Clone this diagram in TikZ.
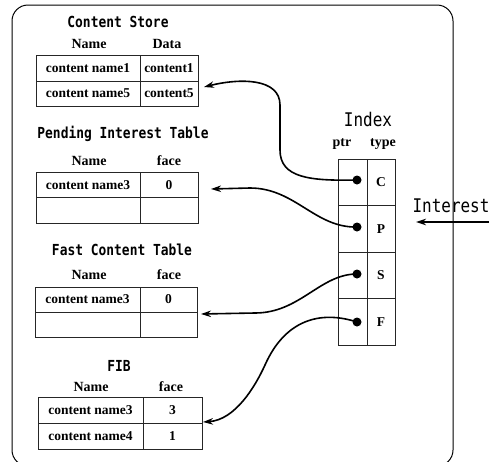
\documentclass[tikz,border=0pt]{standalone}
\usepackage{fontspec}
\usetikzlibrary{arrows.meta}
\setmainfont{Liberation Serif}
\newfontfamily\labelfont[FakeStretch=0.85]{DejaVu Sans Mono}

\tikzset{
  cell/.style={draw=black!85, line width=0.8pt, inner sep=0pt,
    font=\fontsize{13.5}{14}\selectfont\bfseries},
  hdr/.style={anchor=base, inner sep=0pt, font=\fontsize{14}{15}\selectfont\bfseries},
  ttl/.style={anchor=base, inner sep=0pt, font=\labelfont\bfseries\fontsize{15.2}{16}\selectfont},
  bigttl/.style={anchor=base, inner sep=0pt, font=\labelfont\fontsize{18.8}{20}\selectfont},
  link/.style={line width=1.6pt, -{Stealth[length=10pt,width=6.5pt]}},
  ptrdot/.style={circle, fill=black, inner sep=0pt, minimum size=9pt},
}

\begin{document}
\begin{tikzpicture}[x=1pt, y=-1pt]
\useasboundingbox (0,0) rectangle (490,461);

% outer frame (bottom edge runs below the page)
\begin{scope}
  \clip (0,0) rectangle (490,461);
  \draw[line width=1pt, rounded corners=16pt] (12,5) rectangle (453,466);
\end{scope}

% ---------- Content Store ----------
\node[ttl] (csTitle) at (118,27.5) {Content Store};
\node[hdr] (csName) at (89,48) {Name};
\node[hdr] (csData) at (167,48) {Data};
\node[cell, minimum width=104pt, minimum height=26pt] (cs1n) at (88,68) {content name1};
\node[cell, minimum width=58pt,  minimum height=26pt] (cs1d) at (169,68) {content1};
\node[cell, minimum width=104pt, minimum height=25pt] (cs2n) at (88,93.5) {content name5};
\node[cell, minimum width=58pt,  minimum height=25pt] (cs2d) at (169,93.5) {content5};

% ---------- Pending Interest Table ----------
\node[ttl] (pitTitle) at (123,138.3) {Pending Interest Table};
\node[hdr] (pitName) at (89,165) {Name};
\node[hdr] (pitFace) at (169,165) {face};
\node[cell, minimum width=104pt, minimum height=25.5pt] (pit1n) at (88,184.75) {content name3};
\node[cell, minimum width=58pt,  minimum height=25.5pt] (pit1f) at (169,184.75) {0};
\node[cell, minimum width=104pt, minimum height=25.5pt] (pit2n) at (88,210.25) {};
\node[cell, minimum width=58pt,  minimum height=25.5pt] (pit2f) at (169,210.25) {};

% ---------- Fast Content Table ----------
\node[ttl] (fctTitle) at (122,255) {Fast Content Table};
\node[hdr] (fctName) at (89,279) {Name};
\node[hdr] (fctFace) at (169,279) {face};
\node[cell, minimum width=105pt, minimum height=25pt] (fct1n) at (87.5,299.5) {content name3};
\node[cell, minimum width=57pt,  minimum height=25pt] (fct1f) at (168.5,299.5) {0};
\node[cell, minimum width=105pt, minimum height=25pt] (fct2n) at (87.5,324.5) {};
\node[cell, minimum width=57pt,  minimum height=25pt] (fct2f) at (168.5,324.5) {};

% ---------- FIB ----------
\node[ttl] (fibTitle) at (119,371) {FIB};
\node[hdr] (fibName) at (91,391.5) {Name};
\node[hdr] (fibFace) at (171,391.5) {face};
\node[cell, minimum width=105pt, minimum height=26pt] (fib1n) at (90.5,410) {content name3};
\node[cell, minimum width=59pt,  minimum height=26pt] (fib1f) at (172.5,410) {3};
\node[cell, minimum width=105pt, minimum height=26pt] (fib2n) at (90.5,436) {content name4};
\node[cell, minimum width=59pt,  minimum height=26pt] (fib2f) at (172.5,436) {1};

% ---------- Index ----------
\node[bigttl] (idxTitle) at (368,126) {Index};
\node[hdr] (idxPtr) at (342,146) {ptr};
\node[hdr] (idxType) at (383,146) {type};
\node[cell, minimum width=29pt, minimum height=46.5pt] (ipC) at (352.5,182.25) {};
\node[cell, minimum width=28pt, minimum height=46.5pt] (itC) at (381,182.25) {C};
\node[cell, minimum width=29pt, minimum height=46.5pt] (ipP) at (352.5,228.75) {};
\node[cell, minimum width=28pt, minimum height=46.5pt] (itP) at (381,228.75) {P};
\node[cell, minimum width=29pt, minimum height=46.5pt] (ipS) at (352.5,275.25) {};
\node[cell, minimum width=28pt, minimum height=46.5pt] (itS) at (381,275.25) {S};
\node[cell, minimum width=29pt, minimum height=46.5pt] (ipF) at (352.5,321.75) {};
\node[cell, minimum width=28pt, minimum height=46.5pt] (itF) at (381,321.75) {F};

% pointer dots
\node[ptrdot] (dC) at (357,180) {};
\node[ptrdot] (dP) at (357,227) {};
\node[ptrdot] (dS) at (357,274) {};
\node[ptrdot] (dF) at (357,322) {};

% arrow targets beside the tables
\coordinate (tCS)  at (204,87);
\coordinate (tPIT) at (211,189);
\coordinate (tFCT) at (201,314);
\coordinate (tFIB) at (203,422);

% pointers from the index to the tables
\draw[link] (dC.center) .. controls (310,181) and (280,178) .. (280,150)
  -- (280,105) .. controls (280,78) and (240,78) .. (tCS);
\draw[link] (dP.center) .. controls (315,228) and (295,188) .. (250,188) -- (tPIT);
\draw[link] (dS.center) .. controls (320,274) and (300,313) .. (255,313) -- (tFCT);
\draw[link] (dF.center) .. controls (320,310) and (285,320) .. (265,365)
  .. controls (255,387) and (235,420) .. (tFIB);

% incoming Interest
\node[bigttl] (interest) at (451,212.7) {Interest};
\coordinate (inFrom) at (489,222);
\coordinate (inTo) at (416,222);
\draw[link] (inFrom) -- (inTo);
\end{tikzpicture}
\end{document}
